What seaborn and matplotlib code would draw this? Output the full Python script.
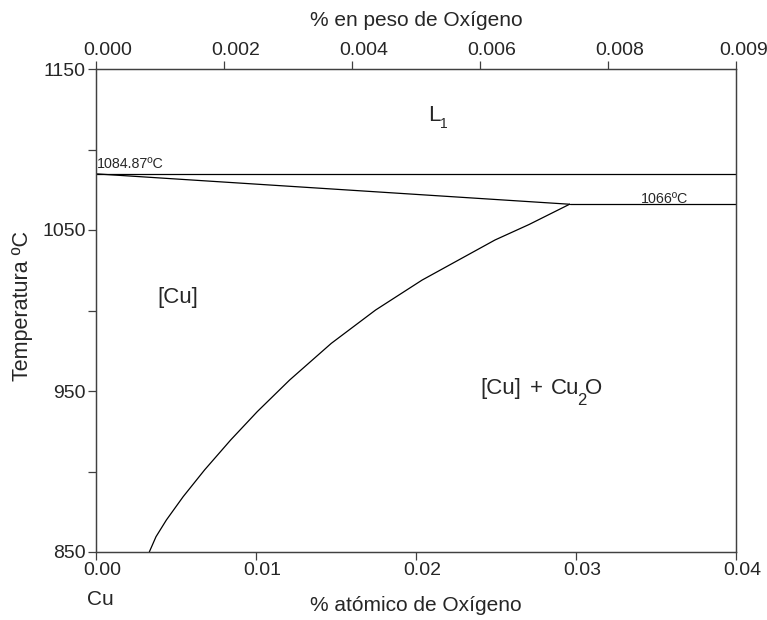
import matplotlib
matplotlib.use("Agg")
import matplotlib.pyplot as plt
from matplotlib.transforms import ScaledTranslation
import seaborn as sns
import pandas as pd

# ---- data ----
x_limits = [0.0, 0.04]
T_limits = [850, 1150]
T_fusion = 1084.87
T_eutectic = 1066.0
x_eutectic = 0.0296

fusion_x = [0.0, 0.04]
fusion_T = [T_fusion, T_fusion]
eutectic_x = [x_eutectic, 0.04]
eutectic_T = [T_eutectic, T_eutectic]
liquidus_x = [0.0, x_eutectic]
liquidus_T = [T_fusion, T_eutectic]
solvus_x = [0.0296, 0.027063, 0.024938, 0.020381, 0.017475, 0.014706, 0.0121,
            0.010081, 0.008419, 0.006788, 0.00545, 0.0044, 0.00375, 0.003331]
solvus_T = [1066.0, 1053.4, 1043.8, 1018.9, 1000.3, 979.6, 956.8,
            937.2, 919.6, 901.0, 884.4, 869.9, 859.5, 850.0]

bottom_ticks = [0.00, 0.01, 0.02, 0.03, 0.04]
bottom_labels = ["0.00", "0.01", "0.02", "0.03", "0.04"]
top_ticks = [0.0, 0.008, 0.016, 0.024, 0.032, 0.04]
top_labels = ["0.000", "0.002", "0.004", "0.006", "0.008", "0.009"]
y_major = [850, 950, 1050, 1150]
y_minor = [900, 1000, 1100]

sns.set_style("ticks")
plt.rcParams["font.family"] = ["Liberation Sans", "DejaVu Sans"]

fig = plt.figure(figsize=(7.67, 6.2), dpi=100)
ax = fig.add_axes([96 / 767, 1 - 552 / 620, 640 / 767, 483 / 620])

def draw(xs, ys):
    df = pd.DataFrame({"x": xs, "T": ys})
    sns.lineplot(data=df, x="x", y="T", ax=ax, color="black", linewidth=0.9,
                 estimator=None, sort=True)

draw(fusion_x, fusion_T)
draw(eutectic_x, eutectic_T)
draw(liquidus_x, liquidus_T)
draw(solvus_x, solvus_T)

spine_col = "#404040"
ax.set_xlim(x_limits)
ax.set_ylim(T_limits)
ax.set_xticks(bottom_ticks)
ax.set_xticklabels(bottom_labels)
ax.set_yticks(y_major)
ax.set_yticks(y_minor, minor=True)
ax.tick_params(axis="both", which="major", labelsize=14, length=6, width=0.9,
               color=spine_col, pad=1.5)
ax.tick_params(axis="y", which="minor", length=6, width=0.9, color=spine_col)
for sp in ax.spines.values():
    sp.set_color(spine_col)
    sp.set_linewidth(0.9)

off = ScaledTranslation(6 / 100, 0, fig.dpi_scale_trans)
for lab in ax.get_xticklabels():
    lab.set_transform(lab.get_transform() + off)

ax.set_xlabel("% atómico de Oxígeno", fontsize=15)
ax.xaxis.set_label_coords(0.5, -0.091)
ax.set_ylabel("Temperatura ºC", fontsize=15.5)
ax.yaxis.set_label_coords(-0.099, 0.509)

ax2 = ax.twiny()
ax2.set_xlim(x_limits)
ax2.set_xticks(top_ticks)
ax2.set_xticklabels(top_labels)
ax2.tick_params(axis="x", labelsize=14, length=6, width=0.9, color=spine_col, pad=1.5)
for sp in ax2.spines.values():
    sp.set_color(spine_col)
    sp.set_linewidth(0.9)
top_labs = ax2.get_xticklabels()
for i, lab in enumerate(top_labs):
    shift = 8 if i == len(top_labs) - 1 else 12
    lab.set_transform(lab.get_transform()
                      + ScaledTranslation(shift / 100, 0, fig.dpi_scale_trans))
ax2.set_xlabel("% en peso de Oxígeno", fontsize=15)
ax2.xaxis.set_label_coords(0.5, 1.088)

# annotations
ax.text(0.0000625, 1088.5, "1084.87ºC", fontsize=10.3, ha="left", va="baseline")
ax.text(0.03406, 1067.0, "1066ºC", fontsize=10.3, ha="left", va="baseline")
ax.text(0.02077, 1117.9, "L", fontsize=16, ha="left", va="baseline")
ax.text(0.02152, 1113.5, "1", fontsize=10, ha="left", va="baseline")
ax.text(0.0240, 948.4, "[Cu]", fontsize=16, ha="left", va="baseline")
ax.text(0.027125, 948.4, "+", fontsize=16, ha="left", va="baseline")
ax.text(0.028406, 948.4, "Cu", fontsize=16, ha="left", va="baseline")
ax.text(0.030094, 941.3, "2", fontsize=12, ha="left", va="baseline")
ax.text(0.030563, 948.4, "O", fontsize=16, ha="left", va="baseline")
ax.text(0.00385, 1004.5, "[Cu]", fontsize=16, ha="left", va="baseline")
fig.text(87 / 767, 1 - 605 / 620, "Cu", fontsize=15, ha="left", va="baseline")

fig.savefig("out.png", dpi=100)
